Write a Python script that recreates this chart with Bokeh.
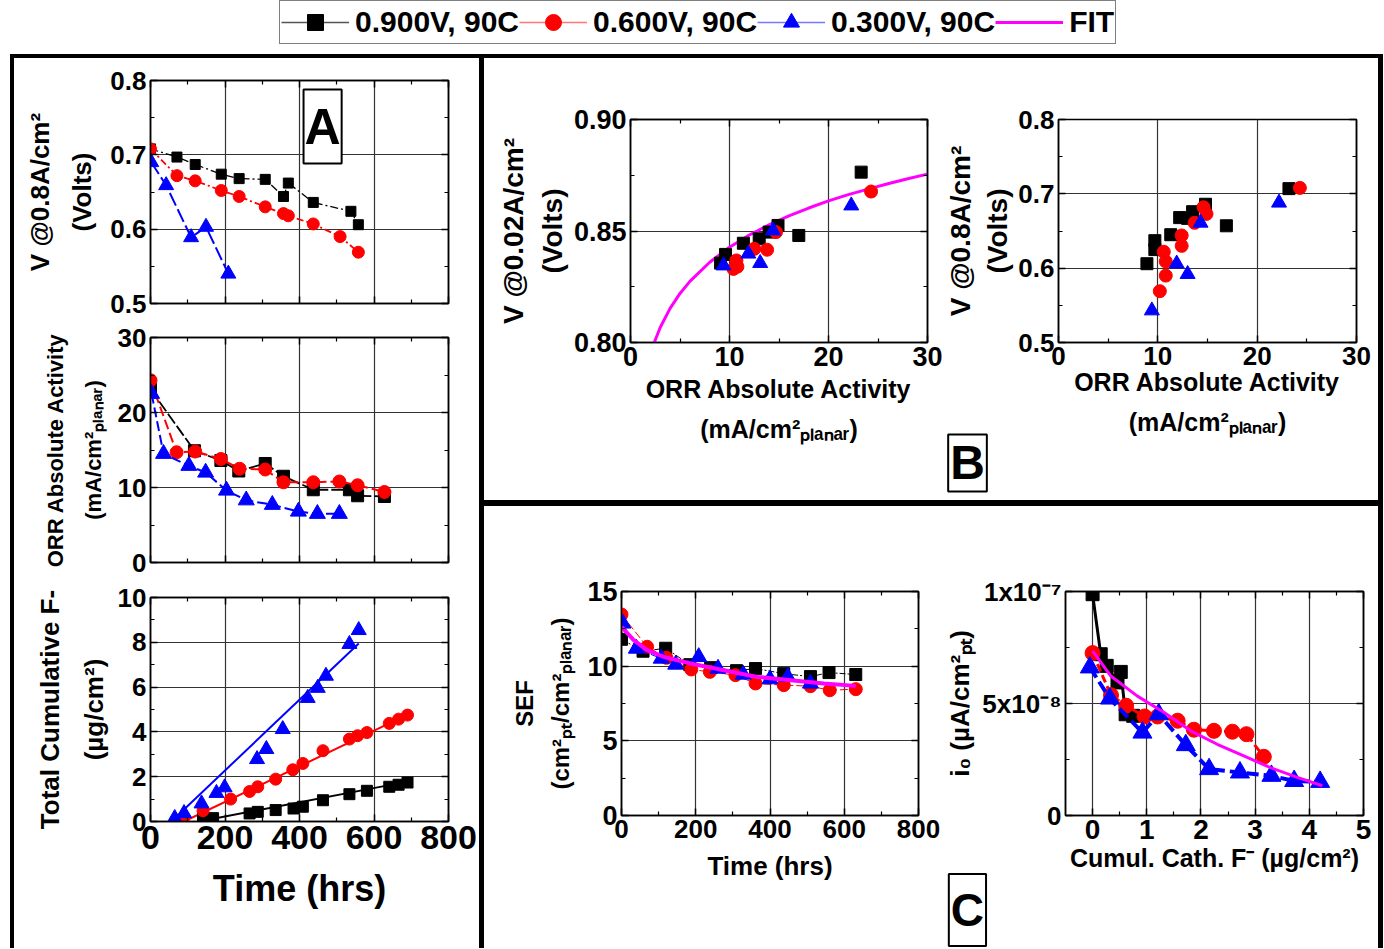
from bokeh.plotting import figure
from bokeh.models import (Range1d, FixedTicker, LinearAxis, Label, Legend,
                          LegendItem, Div, Spacer, NumeralTickFormatter,
                          CustomLabelingPolicy)
from bokeh.layouts import row, column
from bokeh.embed import file_html
from bokeh.resources import INLINE

FONT = "Liberation Sans"
BLACK, RED, BLUE, MAGENTA = "#000000", "#ff0000", "#0000ff", "#ff00ff"

# ---------------- legend labels ----------------
series_labels = ["0.900V, 90C", "0.600V, 90C", "0.300V, 90C", "FIT"]

# ---------------- Panel A1: V @ 0.8 A/cm2 vs time ----------------
a1_t_09 = [0, 71, 120, 190, 238, 308, 357, 370, 437, 538, 558]
a1_v_09 = [0.708, 0.697, 0.687, 0.674, 0.668, 0.667, 0.644, 0.662, 0.636, 0.624, 0.606]
a1_t_06 = [0, 71, 120, 190, 238, 308, 357, 370, 437, 509, 558]
a1_v_06 = [0.708, 0.672, 0.665, 0.652, 0.644, 0.630, 0.621, 0.618, 0.607, 0.590, 0.569]
a1_t_03 = [2, 42, 109, 149, 209]
a1_v_03 = [0.690, 0.659, 0.589, 0.603, 0.540]

# ---------------- Panel A2: ORR activity vs time ----------------
a2_t_09 = [0, 118, 189, 237, 308, 357, 437, 534, 556, 628]
a2_v_09 = [23.1, 14.9, 13.6, 12.2, 13.2, 11.5, 9.7, 9.7, 8.9, 8.8]
a2_t_06 = [0, 70, 120, 189, 239, 308, 357, 437, 507, 556, 628]
a2_v_06 = [24.3, 14.7, 14.8, 13.8, 12.5, 12.4, 10.7, 10.7, 10.8, 10.3, 9.4]
a2_t_03 = [3, 35, 103, 148, 204, 257, 327, 397, 448, 507]
a2_v_03 = [22.5, 14.5, 12.9, 12.0, 9.6, 8.3, 7.7, 6.8, 6.5, 6.5]

# ---------------- Panel A3: cumulative F- vs time ----------------
a3_t_09 = [141, 168, 266, 288, 336, 384, 409, 463, 534, 581, 641, 666, 690]
a3_f_09 = [0.15, 0.15, 0.36, 0.43, 0.51, 0.58, 0.66, 0.95, 1.22, 1.37, 1.55, 1.64, 1.74]
a3_t_06 = [88, 141, 215, 266, 288, 336, 382, 409, 463, 534, 556, 581, 641, 666, 690]
a3_f_06 = [0.0, 0.48, 1.0, 1.34, 1.55, 1.89, 2.31, 2.59, 3.16, 3.68, 3.83, 3.97, 4.38, 4.57, 4.75]
a3_t_03 = [65, 90, 137, 177, 199, 286, 311, 355, 422, 449, 471, 534, 559]
a3_f_03 = [0.15, 0.37, 0.80, 1.27, 1.52, 2.78, 3.23, 4.12, 5.51, 5.96, 6.50, 7.92, 8.54]
a3_fit_t_09 = [130, 690]
a3_fit_f_09 = [0.0, 1.78]
a3_fit_t_06 = [90, 690]
a3_fit_f_06 = [0.0, 4.77]
a3_fit_t_03 = [56, 559]
a3_fit_f_03 = [0.0, 7.95]

# ---------------- Panel B-left: V @ 0.02 A/cm2 vs activity ----------------
b1_a_09 = [9.1, 9.6, 11.4, 13.0, 14.0, 14.9, 17.0, 23.3]
b1_v_09 = [0.8356, 0.8395, 0.8445, 0.8465, 0.8495, 0.8525, 0.848, 0.8764]
b1_a_06 = [10.4, 10.8, 10.7, 12.5, 13.8, 14.7, 24.3]
b1_v_06 = [0.833, 0.834, 0.8368, 0.842, 0.8416, 0.8495, 0.8677]
b1_a_03 = [9.4, 11.9, 13.1, 14.4, 22.3]
b1_v_03 = [0.8345, 0.8398, 0.8356, 0.8502, 0.8614]
b1_fit_a = [2.4, 3, 4, 5, 6, 8, 10, 12, 14, 16, 18, 20, 22, 24, 26, 28, 30]
b1_fit_v = [0.800, 0.8067, 0.8153, 0.822, 0.8274, 0.836, 0.8427, 0.8482, 0.8528,
            0.8568, 0.8603, 0.8635, 0.8663, 0.8688, 0.8712, 0.8734, 0.8755]

# ---------------- Panel B-right: V @ 0.8 A/cm2 vs activity ----------------
b2_a_09 = [8.9, 9.7, 9.7, 11.3, 12.2, 13.0, 13.5, 14.8, 16.9, 23.2]
b2_v_09 = [0.606, 0.637, 0.625, 0.645, 0.668, 0.667, 0.676, 0.686, 0.657, 0.707]
b2_a_06 = [10.2, 10.6, 10.8, 10.8, 12.4, 12.4, 13.7, 14.6, 14.9, 24.3]
b2_v_06 = [0.569, 0.622, 0.609, 0.590, 0.644, 0.630, 0.661, 0.682, 0.673, 0.708]
b2_a_03 = [9.4, 11.9, 13.0, 14.3, 22.2]
b2_v_03 = [0.543, 0.606, 0.592, 0.661, 0.688]

# ---------------- Panel C-left: SEF vs time ----------------
c1_t_09 = [0, 58, 119, 184, 240, 310, 361, 437, 509, 559, 631]
c1_s_09 = [11.8, 11.0, 11.2, 10.1, 9.9, 9.7, 9.84, 9.5, 9.3, 9.57, 9.44]
c1_t_06 = [0, 69, 121, 188, 238, 307, 361, 437, 509, 561, 631]
c1_s_06 = [13.46, 11.3, 10.56, 9.78, 9.62, 9.4, 8.84, 8.73, 8.66, 8.39, 8.46]
c1_t_03 = [4, 40, 107, 146, 208, 260, 328, 400, 448, 509]
c1_s_03 = [12.86, 11.18, 10.51, 10.11, 10.62, 9.84, 9.44, 9.13, 9.28, 8.84]
c1_fit_t = [0, 33, 69, 114, 186, 276, 366, 456, 545, 631]
c1_fit_s = [12.63, 11.74, 11.07, 10.62, 10.18, 9.73, 9.28, 9.06, 8.84, 8.68]

# ---------------- Panel C-right: i0 vs cumulative cathode F- ----------------
c2_f_09 = [0, 0.15, 0.26, 0.46, 0.52, 0.61, 0.75]
c2_i_09 = [9.88e-8, 7.2e-8, 6.68e-8, 5.94e-8, 6.41e-8, 4.52e-8, 4.45e-8]
c2_f_06 = [0, 0.34, 0.62, 0.96, 1.2, 1.57, 1.87, 2.24, 2.58, 2.84, 3.16]
c2_i_06 = [7.25e-8, 5.37e-8, 4.9e-8, 4.42e-8, 4.42e-8, 4.23e-8, 3.83e-8, 3.78e-8,
           3.74e-8, 3.63e-8, 2.62e-8]
c2_f_03 = [-0.05, 0.32, 0.92, 1.22, 1.72, 2.15, 2.72, 3.3, 3.72, 4.2]
c2_i_03 = [6.61e-8, 5.22e-8, 3.7e-8, 4.52e-8, 3.14e-8, 2.07e-8, 1.92e-8, 1.77e-8,
           1.54e-8, 1.5e-8]
c2_fit_f = [0, 0.33, 0.82, 1.32, 1.81, 2.3, 2.79, 3.28, 3.78, 4.24]
c2_fit_i = [7.35e-8, 6.24e-8, 5.34e-8, 4.6e-8, 3.78e-8, 3.18e-8, 2.66e-8, 2.14e-8,
            1.7e-8, 1.33e-8]

# ---------------- ticks ----------------
t800_major = [0, 200, 400, 600, 800]
t800_minor = [100, 300, 500, 700]
a1_y_major = [0.5, 0.6, 0.7, 0.8]
a1_y_minor = [0.55, 0.65, 0.75]
a2_y_major = [0, 10, 20, 30]
a2_y_minor = [5, 15, 25]
a3_y_major = [0, 2, 4, 6, 8, 10]
a3_y_minor = [1, 3, 5, 7, 9]
b_x_major = [0, 10, 20, 30]
b_x_minor = [5, 15, 25]
b1_y_major = [0.80, 0.85, 0.90]
b1_y_minor = [0.825, 0.875]
c1_y_major = [0, 5, 10, 15]
c1_y_minor = [2.5, 7.5, 12.5]
c2_x_major = [0, 1, 2, 3, 4, 5]
c2_x_minor = [0.5, 1.5, 2.5, 3.5, 4.5]
c2_y_major = [0, 5e-8, 1e-7]
c2_y_minor = [2.5e-8, 7.5e-8]
c2_y_labels = {0: "0", 5e-8: "5x10\u207b\u2078", 1e-7: "1x10\u207b\u2077"}


def no_labels():
    return CustomLabelingPolicy(code="return new Set()")


def make_fig(w, h, xr, yr, bl, br, bt, bb):
    p = figure(width=w, height=h, x_range=Range1d(*xr), y_range=Range1d(*yr),
               output_backend="svg", toolbar_location=None,
               min_border_left=bl, min_border_right=br,
               min_border_top=bt, min_border_bottom=bb)
    p.outline_line_color = "black"
    p.outline_line_width = 1.5
    p.background_fill_color = "white"
    p.border_fill_color = "white"
    return p


def style_axis(ax, size):
    ax.axis_line_color = "black"
    ax.axis_line_width = 1.5
    ax.major_tick_in = 7
    ax.major_tick_out = 0
    ax.major_tick_line_width = 1.5
    ax.minor_tick_in = 4
    ax.minor_tick_out = 0
    ax.minor_tick_line_width = 1.2
    ax.major_label_text_font = FONT
    ax.major_label_text_font_style = "bold"
    ax.major_label_text_color = "black"
    ax.major_label_standoff = 4
    ax.axis_label_text_font = FONT
    ax.axis_label_text_font_style = "bold"
    ax.axis_label_text_color = "black"
    if size:
        ax.major_label_text_font_size = f"{size}px"
    else:
        ax.major_label_text_font_size = "1px"
        ax.major_label_policy = no_labels()
        ax.major_label_standoff = 0


def setup(p, xmaj, xmin, ymaj, ymin, xlab_size, ylab_size,
          xlabel=None, ylabel=None, xl_size=26, yl_size=26,
          xl_standoff=8, yl_standoff=8, xl_lh=1.3, yl_lh=1.3, top_axis=True):
    bx = p.below[0]
    ly = p.left[0]
    bx.ticker = FixedTicker(ticks=xmaj, minor_ticks=xmin)
    ly.ticker = FixedTicker(ticks=ymaj, minor_ticks=ymin)
    style_axis(bx, xlab_size)
    style_axis(ly, ylab_size)
    if xlabel:
        bx.axis_label = xlabel
        bx.axis_label_text_font_size = f"{xl_size}px"
        bx.axis_label_standoff = xl_standoff
        bx.axis_label_text_line_height = xl_lh
    if ylabel:
        ly.axis_label = ylabel
        ly.axis_label_text_font_size = f"{yl_size}px"
        ly.axis_label_standoff = yl_standoff
        ly.axis_label_text_line_height = yl_lh
    if top_axis:
        top = LinearAxis(ticker=FixedTicker(ticks=xmaj, minor_ticks=xmin))
        style_axis(top, 0)
        p.add_layout(top, "above")
    right = LinearAxis(ticker=FixedTicker(ticks=ymaj, minor_ticks=ymin))
    style_axis(right, 0)
    p.add_layout(right, "right")
    p.xgrid.ticker = FixedTicker(ticks=xmaj)
    p.ygrid.ticker = FixedTicker(ticks=ymaj)
    p.grid.grid_line_color = "#333333"
    p.grid.grid_line_width = 1.2
    p.xgrid.minor_grid_line_color = None
    p.ygrid.minor_grid_line_color = None


def series(p, x, y, color, marker, size, dash=None, lw=1.5, line_color=None):
    if dash is not None:
        p.line(x, y, line_color=line_color or color, line_width=lw, line_dash=dash)
    p.scatter(x, y, marker=marker, size=size, fill_color=color, line_color=color)


def tag(x, y, text, size, pad):
    return Label(x=x, y=y, text=text, text_font=FONT, text_font_style="bold",
                 text_font_size=f"{size}px", text_align="center", text_baseline="middle",
                 text_color="black", border_line_color="black", border_line_width=2,
                 background_fill_color="white", padding=pad)


# ================= Panel A =================
A_L, A_R = 136, 31
A1 = make_fig(465, 261, (0, 800), (0.5, 0.8), A_L, A_R, 22, 16)
setup(A1, t800_major, t800_minor, a1_y_major, a1_y_minor, 0, 26,
      ylabel="V @0.8A/cm\u00b2\n(Volts)", yl_size=26, yl_standoff=10, yl_lh=1.4)
series(A1, a1_t_09, a1_v_09, BLACK, "square", 10, "8 3 2 3", 1.3)
series(A1, a1_t_06, a1_v_06, RED, "circle", 12, "7 3 2 3", 1.8)
series(A1, a1_t_03, a1_v_03, BLUE, "triangle", 15, "14 4", 2)
A1.add_layout(tag(462, 0.738, "A", 50, (1, 9)))

A2 = make_fig(465, 262, (0, 800), (0, 30), A_L, A_R, 18, 19)
setup(A2, t800_major, t800_minor, a2_y_major, a2_y_minor, 0, 26,
      ylabel="ORR Absolute Activity\n(mA/cm\u00b2\u209a\u2097\u2090\u2099\u2090\u1d63)",
      yl_size=22, yl_standoff=9, yl_lh=1.5)
series(A2, a2_t_09, a2_v_09, BLACK, "square", 12, "12 3", 1.8)
series(A2, a2_t_06, a2_v_06, RED, "circle", 13, "10 4", 2)
series(A2, a2_t_03, a2_v_03, BLUE, "triangle", 16, "10 4", 2)

A3 = make_fig(465, 367, (0, 800), (0, 10), A_L, A_R, 16, 127)
setup(A3, t800_major, t800_minor, a3_y_major, a3_y_minor, 34, 26,
      xlabel="Time (hrs)", ylabel="Total Cumulative F-\n(\u00b5g/cm\u00b2)",
      xl_size=36, yl_size=26, xl_standoff=16, yl_standoff=6, yl_lh=1.45)
A3.line(a3_fit_t_09, a3_fit_f_09, line_color=BLACK, line_width=2)
A3.line(a3_fit_t_06, a3_fit_f_06, line_color=RED, line_width=2)
A3.line(a3_fit_t_03, a3_fit_f_03, line_color=BLUE, line_width=2)
series(A3, a3_t_09, a3_f_09, BLACK, "square", 11)
series(A3, a3_t_06, a3_f_06, RED, "circle", 12)
series(A3, a3_t_03, a3_f_03, BLUE, "triangle", 15)

# ================= Panel B =================
orr_label = "ORR Absolute Activity\n(mA/cm\u00b2\u209a\u2097\u2090\u2099\u2090\u1d63)"
B1 = make_fig(458, 442, (0, 30), (0.80, 0.90), 146, 15, 61, 158)
setup(B1, b_x_major, b_x_minor, b1_y_major, b1_y_minor, 27, 27,
      xlabel=orr_label, ylabel="V @0.02A/cm\u00b2\n(Volts)",
      xl_size=25, yl_size=28, xl_standoff=6, yl_standoff=3, xl_lh=1.45, yl_lh=1.25)
B1.left[0].formatter = NumeralTickFormatter(format="0.00")
B1.line(b1_fit_a, b1_fit_v, line_color=MAGENTA, line_width=3)
series(B1, b1_a_09, b1_v_09, BLACK, "square", 12)
series(B1, b1_a_06, b1_v_06, RED, "circle", 13)
series(B1, b1_a_03, b1_v_03, BLUE, "triangle", 15)

B2 = make_fig(436, 442, (0, 30), (0.5, 0.8), 116, 22, 61, 158)
setup(B2, b_x_major, b_x_minor, a1_y_major, a1_y_minor, 26, 26,
      xlabel=orr_label, ylabel="V @0.8A/cm\u00b2\n(Volts)",
      xl_size=25, yl_size=28, xl_standoff=0, yl_standoff=2, xl_lh=1.45, yl_lh=1.2,
      top_axis=False)
series(B2, b2_a_09, b2_v_09, BLACK, "square", 12)
series(B2, b2_a_06, b2_v_06, RED, "circle", 13)
series(B2, b2_a_03, b2_v_03, BLUE, "triangle", 15)
B2.add_layout(tag(-9.16, 0.3379, "B", 48, (2, 2)), "above")

# ================= Panel C =================
C1 = make_fig(458, 442, (0, 800), (0, 15), 137, 24, 85, 133)
setup(C1, t800_major, t800_minor, c1_y_major, c1_y_minor, 26, 27,
      xlabel="Time (hrs)",
      ylabel="SEF\n(cm\u00b2\u209a\u209c/cm\u00b2\u209a\u2097\u2090\u2099\u2090\u1d63)",
      xl_size=26, yl_size=24, xl_standoff=10, yl_standoff=10, yl_lh=1.35)
series(C1, c1_t_09, c1_s_09, BLACK, "square", 12, "6 2 2 2", 1)
series(C1, c1_t_06, c1_s_06, RED, "circle", 13, "8 3", 1)
series(C1, c1_t_03, c1_s_03, BLUE, "triangle", 16, "8 3", 1)
C1.line(c1_fit_t, c1_fit_s, line_color=MAGENTA, line_width=4)

C2 = make_fig(436, 442, (-0.5, 5), (0, 1e-7), 123, 15, 85, 133)
setup(C2, c2_x_major, c2_x_minor, c2_y_major, c2_y_minor, 28, 26,
      xlabel="Cumul. Cath. F\u207b (\u00b5g/cm\u00b2)",
      ylabel="i\u2080 (\u00b5A/cm\u00b2\u209a\u209c)",
      xl_size=25, yl_size=26, xl_standoff=2, yl_standoff=4)
C2.left[0].major_label_overrides = c2_y_labels
series(C2, c2_f_09, c2_i_09, BLACK, "square", 13, "solid", 3)
series(C2, c2_f_06, c2_i_06, RED, "circle", 15, "8 4", 3)
series(C2, c2_f_03, c2_i_03, BLUE, "triangle", 19, "12 5", 4)
C2.line(c2_fit_f, c2_fit_i, line_color=MAGENTA, line_width=3)
C2.add_layout(tag(-2.31, -4.22e-8, "C", 46, (2, 10)), "above")

# ================= Legend strip =================
leg = figure(width=1383, height=54, x_range=Range1d(-2000, -1000), y_range=Range1d(0, 1),
             output_backend="svg", toolbar_location=None, min_border=0,
             x_axis_location=None, y_axis_location=None)
leg.grid.visible = False
leg.outline_line_color = None
leg.border_fill_color = "white"
l1 = leg.line(a1_t_09, a1_v_09, line_color="#555555", line_width=1.5)
m1 = leg.scatter(a1_t_09, a1_v_09, marker="square", size=20, color=BLACK)
l2 = leg.line(a1_t_06, a1_v_06, line_color="#ff7777", line_width=1.5)
m2 = leg.scatter(a1_t_06, a1_v_06, marker="circle", size=22, color=RED)
l3 = leg.line(a1_t_03, a1_v_03, line_color="#7777ff", line_width=1.5)
m3 = leg.scatter(a1_t_03, a1_v_03, marker="triangle", size=26, color=BLUE)
l4 = leg.line(b1_fit_a, b1_fit_v, line_color=MAGENTA, line_width=3)
legend = Legend(items=[LegendItem(label=series_labels[0], renderers=[l1, m1]),
                       LegendItem(label=series_labels[1], renderers=[l2, m2]),
                       LegendItem(label=series_labels[2], renderers=[l3, m3]),
                       LegendItem(label=series_labels[3], renderers=[l4])],
                orientation="horizontal", location=(279, 10),
                label_text_font=FONT, label_text_font_style="bold",
                label_text_font_size="30px", label_text_color="black", label_standoff=6,
                glyph_width=68, glyph_height=40, label_height=40,
                spacing=0, padding=1, margin=0,
                border_line_color="black", border_line_width=1.5,
                background_fill_color="white", background_fill_alpha=1)
leg.add_layout(legend, "center")


# ================= frames & layout =================
def bar(w, h):
    return Div(width=w, height=h, margin=0, styles={"background-color": "black"})


H = 894
colA = column(bar(465, 4), A1, A2, A3, spacing=0)
colBC = column(bar(894, 4), row(B1, B2, spacing=0), bar(894, 6),
               row(C1, C2, spacing=0), spacing=0)
main = row(Spacer(width=10, height=H), bar(4, H), colA, bar(5, H), colBC,
           bar(5, H), spacing=0)
root = column(leg, main, spacing=0)

open("out.html", "w").write(file_html(root, INLINE))
